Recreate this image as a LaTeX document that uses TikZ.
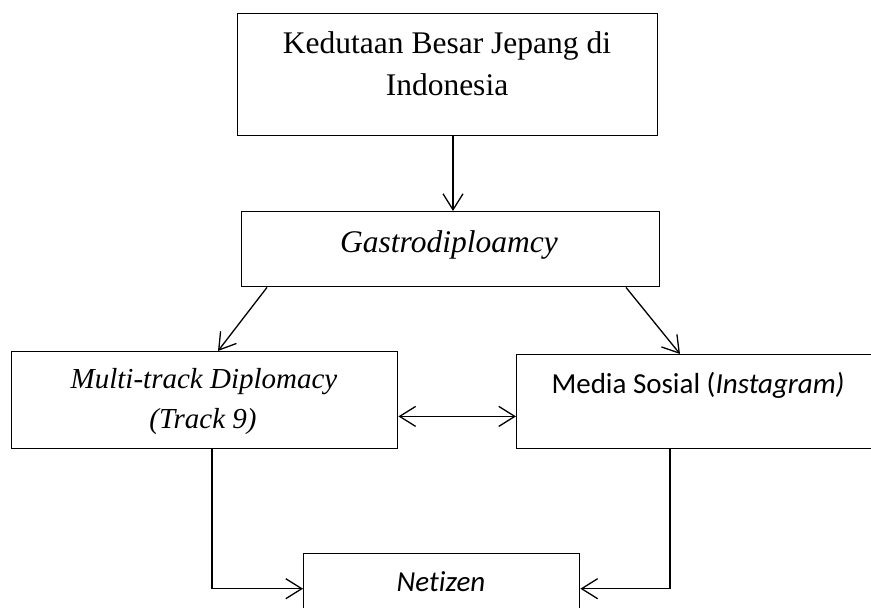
\documentclass[tikz,border=0pt]{standalone}
\usepackage{fontspec}
\setmainfont{Liberation Serif}
\newfontfamily\calfont[Ligatures=NoCommon]{Carlito}
\usetikzlibrary{arrows.meta,calc}
\begin{document}
\begin{tikzpicture}[x=1pt,y=-1pt,
  >={Straight Barb[length=16pt,width=20pt]},
  box/.style={draw,line width=1.4pt,inner sep=0pt,anchor=north west},
  conn/.style={line width=1.3pt,->},
  dconn/.style={line width=1.3pt,<->},
  lbl/.style={inner sep=0pt,anchor=base},
  serifbig/.style={font=\fontsize{31.5}{40}\selectfont},
  serifmid/.style={font=\fontsize{29}{36}\selectfont\itshape},
  sansmid/.style={font=\calfont\fontsize{29}{36}\selectfont}]
\useasboundingbox (0,0) rectangle (871,608);
\fill[white] (0,0) rectangle (871,608);
% boxes
\node[box,minimum width=420pt,minimum height=122pt] (kbri) at (237,13) {};
\node[box,minimum width=418pt,minimum height=75pt] (gastro) at (241,211) {};
\node[box,minimum width=386pt,minimum height=97pt] (multi) at (11,351) {};
\node[box,minimum width=430pt,minimum height=94pt] (media) at (516,354) {};
\node[box,minimum width=276pt,minimum height=70pt] (netizen) at (303,553) {};
% texts
\node[lbl,serifbig] (kbri1) at (447,53) {Kedutaan Besar Jepang di};
\node[lbl,serifbig] (kbri2) at (447,95) {Indonesia};
\node[lbl,serifbig,font=\fontsize{31.5}{40}\selectfont\itshape] (gastrot) at (449,252) {Gastrodiploamcy};
\node[lbl,serifmid] (multi1) at (204,388) {Multi-track Diplomacy};
\node[lbl,serifmid] (multi2) at (203,428) {(Track 9)};
\node[lbl,sansmid] (mediat) at (698,393) {Media Sosial (\textit{Instagram)}};
\node[lbl,sansmid,font=\calfont\fontsize{29}{36}\selectfont\itshape] (netizent) at (441,591) {Netizen};
% connectors
\draw[conn] (kbri.south -| 453,0) -- (gastro.north -| 453,0);
\draw[conn] ($(gastro.south west)+(26,0)$) -- ($(multi.north west)+(207,0)$);
\draw[conn] ($(gastro.south west)+(385,0)$) -- ($(media.north west)+(164,0)$);
\draw[dconn] ($(multi.south east)+(0,-33)$) -- ($(media.south west)+(0,-33)$);
\draw[conn] ($(multi.south west)+(201,0)$) |- (netizen.west);
\draw[conn] ($(media.south west)+(154,0)$) |- (netizen.east);
\end{tikzpicture}
\end{document}
